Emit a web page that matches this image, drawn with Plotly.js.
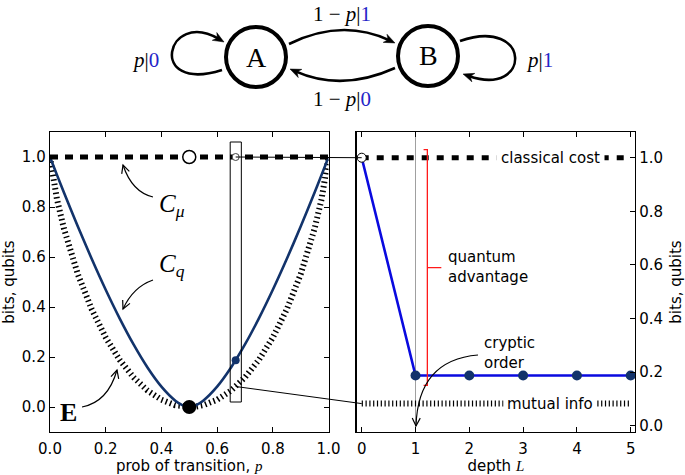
<!DOCTYPE html>
<html><head><meta charset="utf-8">
<script src="https://cdn.plot.ly/plotly-3.0.1.min.js"></script>
<style>body{margin:0;background:#fff}#chart{width:685px;height:475px}</style>
</head><body><div id="chart"></div>
<script>
// ---------------- data ----------------
const probP = [0, 0.01, 0.025, 0.05, 0.1, 0.15, 0.2, 0.25, 0.3, 0.35, 0.4, 0.45, 0.475, 0.49, 0.5, 0.51, 0.525, 0.55, 0.6, 0.65, 0.7, 0.75, 0.8, 0.85, 0.9, 0.95, 0.975, 0.99, 1];
const quantumCq = [1, 0.9712, 0.9285, 0.8582, 0.7219, 0.5919, 0.4690, 0.3546, 0.2502, 0.1581, 0.0815, 0.0253, 0.0076, 0.0015, 0, 0.0015, 0.0076, 0.0253, 0.0815, 0.1581, 0.2502, 0.3546, 0.4690, 0.5919, 0.7219, 0.8582, 0.9285, 0.9712, 1];
const excessE = [1, 0.9192, 0.8313, 0.7136, 0.5310, 0.3902, 0.2781, 0.1887, 0.1187, 0.0659, 0.0290, 0.0072, 0.0018, 0.0003, 0, 0.0003, 0.0018, 0.0072, 0.0290, 0.0659, 0.1187, 0.1887, 0.2781, 0.3902, 0.5310, 0.7136, 0.8313, 0.9192, 1];
const cmuP = [0, 1];
const cmuVals = [1, 1];
const pHalf = [0.5];
const cmuAtHalf = [1.0];
const cqAtHalf = [0];
const pSample = [2/3];
const cmuAtSample = [1.0];
const cqAtSample = [0.187];
const eAtSample = [0.082];
const depthL = [0, 1, 2, 3, 4, 5];
const depthCq = [1.0, 0.187, 0.187, 0.187, 0.187, 0.187];
const depthClassical = [1, 1, 1, 1, 1, 1];
const depthMutual = [0.082, 0.082, 0.082, 0.082, 0.082, 0.082];
const xTicksLeft = [0, 0.2, 0.4, 0.6, 0.8, 1.0];
const yTicks = [0, 0.2, 0.4, 0.6, 0.8, 1.0];
const xTicksRight = [0, 1, 2, 3, 4, 5];

// ---------------- geometry helpers ----------------
const W = 685, H = 475, M = {l: 50, r: 50, t: 132, b: 43};
const PW = W - M.l - M.r, PH = H - M.t - M.b;
const dom1 = [0, 0.4761], dom2 = [0.5243, 1];
const xr1 = [0, 1], yr1 = [-0.1, 1.1], xr2 = [-0.093, 5.08], yr2 = [-0.024, 1.096];
function px(X) { return (X - M.l) / PW; }
function py(Y) { return (H - M.b - Y) / PH; }
function pt(X, Y) { return px(X).toFixed(5) + ',' + py(Y).toFixed(5); }
function dX(v, r, d) { return d[0] + (v - r[0]) / (r[1] - r[0]) * (d[1] - d[0]); }
function dY(v, r) { return (v - r[0]) / (r[1] - r[0]); }

const shapes = [];
const annotations = [];
const BLACK = 'black';

function circleShape(cx, cy, r, w) {
  shapes.push({type: 'circle', xref: 'paper', yref: 'paper',
    x0: px(cx - r), x1: px(cx + r), y0: py(cy + r), y1: py(cy - r),
    line: {color: BLACK, width: w}});
}
function unit(fx, fy, tx, ty) { const dx = tx - fx, dy = ty - fy, L = Math.hypot(dx, dy); return [dx / L, dy / L]; }
function filledHead(tx, ty, fx, fy, len, half) {
  const [ux, uy] = unit(fx, fy, tx, ty);
  const nx = -uy, ny = ux;
  const bx = tx - ux * len, by = ty - uy * len;
  const kx = tx - ux * len * 0.7, ky = ty - uy * len * 0.7;
  shapes.push({type: 'path', xref: 'paper', yref: 'paper',
    path: 'M' + pt(tx, ty) + ' L' + pt(bx + nx * half, by + ny * half) + ' L' + pt(kx, ky) + ' L' + pt(bx - nx * half, by - ny * half) + ' Z',
    fillcolor: BLACK, line: {color: BLACK, width: 0.5}});
}
function openHead(tx, ty, fx, fy, len, half) {
  const [ux, uy] = unit(fx, fy, tx, ty);
  const nx = -uy, ny = ux;
  const bx = tx - ux * len, by = ty - uy * len;
  shapes.push({type: 'path', xref: 'paper', yref: 'paper',
    path: 'M' + pt(bx + nx * half, by + ny * half) + ' L' + pt(tx, ty) + ' L' + pt(bx - nx * half, by - ny * half),
    line: {color: BLACK, width: 1.2}});
}
function quadArrow(sx, sy, cx, cy, tx, ty, w, filled) {
  const [ux, uy] = unit(cx, cy, tx, ty);
  const ex = filled ? tx - ux * 6 : tx, ey = filled ? ty - uy * 6 : ty;
  shapes.push({type: 'path', xref: 'paper', yref: 'paper',
    path: 'M' + pt(sx, sy) + ' Q' + pt(cx, cy) + ' ' + pt(ex, ey), line: {color: BLACK, width: w}});
  if (filled) filledHead(tx, ty, cx, cy, 11, 4.5); else openHead(tx, ty, cx, cy, 8, 4);
}
function cubicArrow(sx, sy, c1x, c1y, c2x, c2y, tx, ty, w) {
  const [ux, uy] = unit(c2x, c2y, tx, ty);
  const ex = tx - ux * 6, ey = ty - uy * 6;
  shapes.push({type: 'path', xref: 'paper', yref: 'paper',
    path: 'M' + pt(sx, sy) + ' C' + pt(c1x, c1y) + ' ' + pt(c2x, c2y) + ' ' + pt(ex, ey), line: {color: BLACK, width: w}});
  filledHead(tx, ty, c2x, c2y, 11, 4.5);
}
function textAt(X, Y, text, font, extra) {
  annotations.push(Object.assign({xref: 'paper', yref: 'paper', x: px(X), y: py(Y), text: text,
    showarrow: false, xanchor: 'center', yanchor: 'middle', font: font}, extra || {}));
}

// ---------------- state diagram ----------------
const SERIF = 'Liberation Serif';
const BLUE_TXT = '#2424c8';
circleShape(256, 57, 30, 4);
circleShape(428, 56, 30, 4);
cubicArrow(222, 70, 146, 94, 166, 8, 224, 42, 2.6);
quadArrow(289, 44, 342, 18, 395, 43, 2.6, true);
quadArrow(395, 68, 342, 92, 290, 69, 2.6, true);
cubicArrow(460, 41, 532, 16, 532, 98, 463, 74, 2.6);
textAt(256, 57, 'A', {family: SERIF, size: 28, color: BLACK});
textAt(428, 56, 'B', {family: SERIF, size: 28, color: BLACK});
textAt(342, 14, '1 − <i>p</i>|<span style="color:' + BLUE_TXT + '">1</span>', {family: SERIF, size: 21, color: BLACK});
textAt(342, 99, '1 − <i>p</i>|<span style="color:' + BLUE_TXT + '">0</span>', {family: SERIF, size: 21, color: BLACK});
textAt(145, 60, '<i>p</i>|<span style="color:' + BLUE_TXT + '">0</span>', {family: SERIF, size: 21, color: BLACK});
textAt(539, 60, '<i>p</i>|<span style="color:' + BLUE_TXT + '">1</span>', {family: SERIF, size: 21, color: BLACK});

// ---------------- left panel annotations ----------------
textAt(172, 205, '<i>C</i><sub><i>μ</i></sub>', {family: SERIF, size: 25, color: BLACK});
textAt(172, 265, '<i>C</i><sub><i>q</i></sub>', {family: SERIF, size: 25, color: BLACK});
textAt(68, 412, '<b>E</b>', {family: SERIF, size: 26, color: BLACK});
quadArrow(153, 197, 132, 192, 123, 165, 1.2, false);
quadArrow(153, 280, 133, 287, 123, 309, 1.2, false);
quadArrow(82, 407, 108, 402, 117, 370, 1.2, false);

// selection rectangle
shapes.push({type: 'rect', xref: 'x', yref: 'y', x0: 0.647, x1: 0.687, y0: 0.02, y1: 1.06,
  line: {color: BLACK, width: 1}, fillcolor: 'rgba(0,0,0,0)'});
// connectors between panels
shapes.push({type: 'line', xref: 'paper', yref: 'paper',
  x0: dX(pSample[0], xr1, dom1), y0: dY(cmuAtSample[0], yr1), x1: dX(depthL[0], xr2, dom2), y1: dY(depthClassical[0], yr2),
  line: {color: BLACK, width: 1}});
shapes.push({type: 'line', xref: 'paper', yref: 'paper',
  x0: dX(pSample[0], xr1, dom1), y0: dY(eAtSample[0], yr1), x1: dX(depthL[0], xr2, dom2), y1: dY(depthMutual[0], yr2),
  line: {color: BLACK, width: 1}});

// ---------------- right panel annotations ----------------
shapes.push({type: 'line', xref: 'x2', yref: 'y2 domain', x0: 1, x1: 1, y0: 0, y1: 1, layer: 'below',
  line: {color: '#a0a0a0', width: 1}});
const RED = '#ff1a1a';
shapes.push({type: 'path', xref: 'x2', yref: 'y2',
  path: 'M1.15,1.03 L1.22,1.03 L1.22,0.15 L1.15,0.15', line: {color: RED, width: 1.3}});
shapes.push({type: 'line', xref: 'x2', yref: 'y2', x0: 1.22, x1: 1.48, y0: 0.59, y1: 0.59, line: {color: RED, width: 1.3}});
const SANS = 'DejaVu Sans';
annotations.push({xref: 'x2', yref: 'y2', x: 3.5, y: 1.0, text: 'classical cost', showarrow: false,
  bgcolor: 'white', borderpad: 4, font: {family: SANS, size: 15, color: BLACK}});
annotations.push({xref: 'x2', yref: 'y2', x: 3.5, y: 0.082, text: 'mutual info', showarrow: false,
  bgcolor: 'white', borderpad: 3, font: {family: SANS, size: 15, color: BLACK}});
textAt(446, 267, 'quantum<br>advantage', {family: SANS, size: 15, color: BLACK}, {xanchor: 'left', align: 'left'});
textAt(482, 353, 'cryptic<br>order', {family: SANS, size: 15, color: BLACK}, {xanchor: 'left', align: 'left'});
quadArrow(478, 355, 418, 360, 416, 426, 1.2, false);

// ---------------- traces ----------------
const NAVY = '#12336b';
const traces = [
  {x: probP, y: excessE, xaxis: 'x', yaxis: 'y', mode: 'lines', line: {color: BLACK, width: 6, dash: '1.5px,3px'}, hoverinfo: 'skip'},
  {x: probP, y: quantumCq, xaxis: 'x', yaxis: 'y', mode: 'lines', line: {color: NAVY, width: 2.6, shape: 'spline', smoothing: 0.8}},
  {x: cmuP, y: cmuVals, xaxis: 'x', yaxis: 'y', mode: 'lines', line: {color: BLACK, width: 5, dash: '8px,7px'}},
  {x: pHalf, y: cmuAtHalf, xaxis: 'x', yaxis: 'y', mode: 'markers', marker: {size: 13, color: 'white', line: {color: BLACK, width: 1.5}}},
  {x: pHalf, y: cqAtHalf, xaxis: 'x', yaxis: 'y', mode: 'markers', marker: {size: 14, color: BLACK}},
  {x: pSample, y: cmuAtSample, xaxis: 'x', yaxis: 'y', mode: 'markers', marker: {size: 7, color: 'white', line: {color: '#444', width: 1}}},
  {x: pSample, y: cqAtSample, xaxis: 'x', yaxis: 'y', mode: 'markers', marker: {size: 8, color: NAVY}},
  // right panel
  {x: depthL, y: depthClassical, xaxis: 'x2', yaxis: 'y2', mode: 'lines', line: {color: BLACK, width: 5, dash: '7px,8px'}},
  {x: depthL, y: depthMutual, xaxis: 'x2', yaxis: 'y2', mode: 'lines', line: {color: BLACK, width: 6, dash: '1.2px,2.6px'}},
  {x: depthL, y: depthCq, xaxis: 'x2', yaxis: 'y2', mode: 'lines', line: {color: '#0a0adf', width: 2.6}},
  {x: depthL.slice(1), y: depthCq.slice(1), xaxis: 'x2', yaxis: 'y2', mode: 'markers', marker: {size: 10, color: NAVY}},
  {x: depthL.slice(0, 1), y: depthCq.slice(0, 1), xaxis: 'x2', yaxis: 'y2', mode: 'markers', marker: {size: 9, color: 'white', line: {color: BLACK, width: 1}}}
];

const axisCommon = {showline: true, linecolor: BLACK, linewidth: 1.3, ticks: 'inside', ticklen: 5, tickwidth: 1,
  tickcolor: BLACK, showgrid: false, zeroline: false, tickfont: {family: SANS, size: 15, color: BLACK}};
const titleFont = {family: SANS, size: 15, color: BLACK};
const pItal = '<span style="font-family:Liberation Serif;font-style:italic">';
const layout = {
  width: W, height: H, margin: M, showlegend: false,
  paper_bgcolor: 'white', plot_bgcolor: 'white',
  xaxis: Object.assign({}, axisCommon, {domain: dom1, range: xr1, tickvals: xTicksLeft, tickformat: '.1f', mirror: 'ticks', anchor: 'y',
    ticklabelstandoff: 3, title: {text: 'prob of transition, ' + pItal + 'p</span>', font: titleFont, standoff: 4}}),
  yaxis: Object.assign({}, axisCommon, {domain: [0, 1], range: yr1, tickvals: yTicks, tickformat: '.1f', mirror: 'ticks', anchor: 'x',
    title: {text: 'bits, qubits', font: titleFont, standoff: 10}}),
  xaxis2: Object.assign({}, axisCommon, {domain: dom2, range: xr2, tickvals: xTicksRight, tickformat: 'd', mirror: 'ticks', anchor: 'y2',
    ticklabelstandoff: 3, title: {text: 'depth ' + pItal + 'L</span>', font: titleFont, standoff: 4}}),
  yaxis2: Object.assign({}, axisCommon, {domain: [0, 1], range: yr2, tickvals: yTicks, tickformat: '.1f', mirror: true, side: 'right', anchor: 'x2',
    title: {text: 'bits, qubits', font: titleFont, standoff: 8}}),
  shapes: shapes, annotations: annotations
};
Plotly.newPlot('chart', traces, layout, {displayModeBar: false, staticPlot: true});
</script>
</body></html>
